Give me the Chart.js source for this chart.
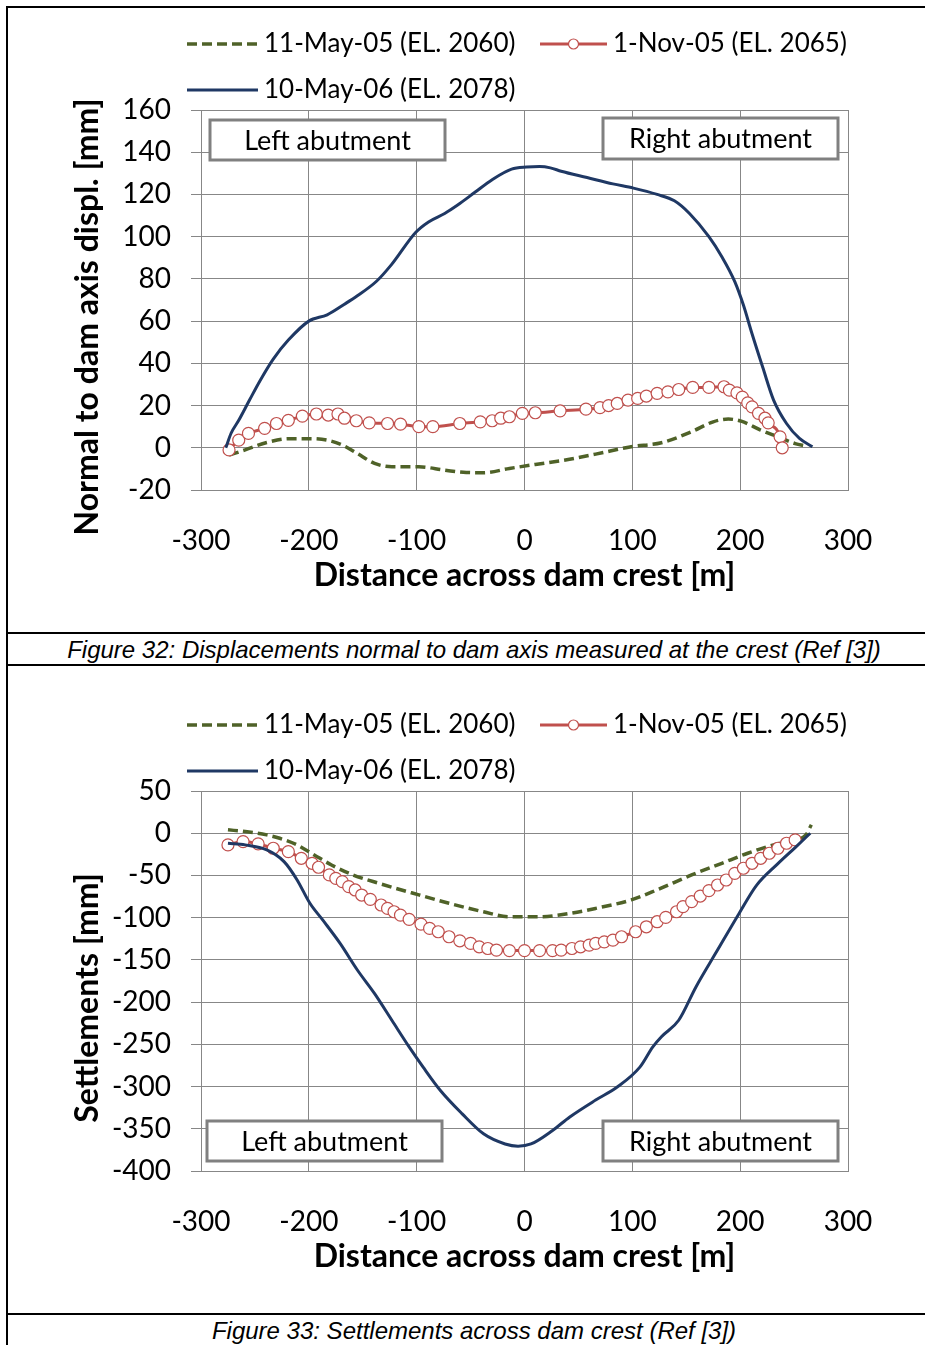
<!DOCTYPE html>
<html>
<head>
<meta charset="utf-8">
<script src="https://cdn.jsdelivr.net/npm/chart.js@4.4.1/dist/chart.umd.min.js"></script>
<style>
  body { margin: 0; background: #fff; }
  #page { position: relative; width: 925px; height: 1345px; overflow: hidden; }
  .vline { position: absolute; left: 6px; top: 6px; width: 2px; height: 1345px; background: #000; }
  .hline { position: absolute; left: 6px; width: 930px; height: 2px; background: #000; }
  .cap { position: absolute; left: 8px; width: 932px; text-align: center;
         font: italic 24px "Liberation Sans", Arial, sans-serif; color: #000; }
  canvas { position: absolute; left: 0; }
</style>
</head>
<body>
<div id="page">
  <div class="vline"></div>
  <div class="hline" style="top:6px"></div>
  <canvas id="disp" width="925" height="630" style="top:0"></canvas>
  <div class="hline" style="top:632px"></div>
  <div class="cap" style="top:636px">Figure 32: Displacements normal to dam axis measured at the crest (Ref [3])</div>
  <div class="hline" style="top:664px"></div>
  <canvas id="settl" width="925" height="630" style="top:681px"></canvas>
  <div class="hline" style="top:1313px"></div>
  <div class="cap" style="top:1317px">Figure 33: Settlements across dam crest (Ref [3])</div>
</div>

<script>
// labels of the three surveys
const seriesNames = ['11-May-05 (EL. 2060)', '1-Nov-05 (EL. 2065)', '10-May-06 (EL. 2078)'];

// ---- Figure 32: displacement normal to dam axis [mm] vs distance [m]
const disp_may05_x = [-274,-259,-239,-219,-199,-183,-169,-155,-139,-123,-98,-74,-54,-38,-14,10,38,66,99,127,155,175,189,201,219,235,251,261];
const disp_may05_y = [-3.5,-1,2.5,4.3,4.3,3.6,1.3,-2.7,-7.4,-9,-9,-10.6,-11.7,-11.8,-9.8,-7.9,-5.8,-3,0.5,2.4,7.6,12.3,13.6,12.6,8.4,5.2,2,0.8];

const disp_nov05_x = [-274,-265,-256,-241,-230,-219,-206,-193,-182,-173,-167,-156,-144,-127,-115,-98,-85,-60,-41,-30,-22,-14,-2,10,33,57,70,78,86,96,105,113,123,133,143,156,171,185,190,197,202,207,211,217,223,226,237,239];
const disp_nov05_y = [-1,3.6,6.8,9.2,11.5,13,15,16,15.5,16,14,12.8,11.8,11.5,11.2,10,10,11.5,12.3,12.8,14,14.7,16.3,16.6,17.5,18.3,19,20,21,22.6,23.4,24.5,25.8,26.5,27.6,28.6,28.6,28.9,27.3,26,24,21.3,19.4,16.3,14,11.8,5.2,0];

const disp_may06_x = [-277,-272,-265,-255,-245,-233,-219,-200,-183,-167,-155,-137,-123,-101,-89,-74,-62,-46,-30,-12,2,14,24,34,58,82,101,123,139,153,171,183,195,203,211,221,231,243,255,267];
const disp_may06_y = [0,7,13,22.6,32,42,51,60,63,68,72,79,87,102,107,111,115,121,127,132,133,133.2,132.6,131,128,125,123,120,117,111,100,90.5,78.7,67.6,54,38,22.6,11.5,4.4,0.5];

// ---- Figure 33: settlements [mm] vs distance [m]
const settl_may05_x = [-275,-259,-239,-227,-211,-195,-179,-159,-135,-98,-70,-38,-14,14,42,66,99,123,155,183,207,231,251,261,266];
const settl_may05_y = [4,2,-2,-6,-13.8,-25.7,-37.6,-49.4,-59.3,-73,-83,-93,-99,-99,-95,-89,-79,-67,-49.4,-35.6,-23.7,-13.8,-7.9,-2,10];

const settl_nov05_x = [-275,-261,-247,-233,-219,-207,-197,-191,-181,-175,-169,-163,-157,-151,-143,-133,-127,-121,-115,-107,-96,-88,-80,-70,-60,-50,-42,-34,-26,-14,0,14,26,34,44,52,60,66,74,82,90,103,113,123,131,141,147,155,163,171,179,187,195,203,211,219,227,235,243,251];
const settl_nov05_y = [-13.8,-9.9,-12.6,-17.8,-21.8,-29.7,-35.6,-40.3,-49.4,-53.4,-57.4,-63.3,-67.2,-73.2,-78.3,-85,-89,-93,-97,-102,-107.6,-112.7,-116.7,-122.6,-127.4,-130.5,-134.5,-136.5,-138.4,-139,-139,-139,-139,-138.4,-136.5,-134.5,-132.5,-130.5,-128.6,-126.6,-122.6,-116.7,-110.8,-104.8,-99.7,-93,-87,-81,-74.4,-68,-61.3,-55.4,-47.5,-41.5,-35.6,-29.7,-23.7,-17.8,-11.9,-7.9];

const settl_may06_x = [-275,-259,-239,-223,-211,-199,-187,-171,-155,-139,-123,-107,-94,-78,-58,-38,-18,-6,6,26,42,66,86,107,119,127,143,159,179,199,215,235,251,265];
const settl_may06_y = [-11.9,-13.8,-19.8,-33.6,-55,-83,-103,-130.5,-162,-190,-221.5,-253,-277,-304.6,-332,-356,-368,-370.6,-368,-352,-336,-316,-300.6,-277,-253,-241,-221.5,-182,-138.4,-95,-62,-36,-17,0];

const xTicks = { min: -300, max: 300, step: 100 };
const dispTicks = { min: -20, max: 160, step: 20 };
const settlTicks = { min: -400, max: 50, step: 50 };

const FONT = 'Lato, "Open Sans", sans-serif';
const GRID = '#878787';

function pts(xs, ys) {
  return xs.map(function(x, i) { return { x: x, y: ys[i] }; });
}

function makeDatasets(g, r, b) {
  return [{
    label: seriesNames[0],
    data: g,
    borderColor: '#4F6228',
    borderWidth: 3.5,
    borderDash: [10, 5],
    pointRadius: 0,
    order: 3
  }, {
    label: seriesNames[1],
    data: r,
    borderColor: '#C0504D',
    borderWidth: 3,
    pointRadius: 6,
    pointBorderWidth: 1.2,
    pointBackgroundColor: '#fff',
    pointBorderColor: '#C0504D',
    order: 2
  }, {
    label: seriesNames[2],
    data: b,
    borderColor: '#1F3864',
    borderWidth: 3,
    pointRadius: 0,
    order: 1
  }];
}

// legend, rotated y title and the two abutment labels
const decor = {
  id: 'decor',
  afterDraw(chart, args, opts) {
    const ctx = chart.ctx;
    const ca = chart.chartArea;
    ctx.save();

    // legend
    const slots = [{ x: 187, y: 44, w: 71 }, { x: 540, y: 44, w: 67 }, { x: 187, y: 90, w: 71 }];
    chart.data.datasets.forEach(function(ds, i) {
      const s = slots[i];
      ctx.beginPath();
      ctx.strokeStyle = ds.borderColor;
      ctx.lineWidth = ds.borderWidth;
      ctx.setLineDash(ds.borderDash || []);
      ctx.moveTo(s.x, s.y);
      ctx.lineTo(s.x + s.w, s.y);
      ctx.stroke();
      ctx.setLineDash([]);
      if (ds.pointRadius) {
        ctx.beginPath();
        ctx.arc(s.x + s.w / 2, s.y, 5, 0, Math.PI * 2);
        ctx.fillStyle = '#fff';
        ctx.fill();
        ctx.lineWidth = 1.2;
        ctx.strokeStyle = ds.pointBorderColor;
        ctx.stroke();
      }
      ctx.fillStyle = '#000';
      ctx.font = '26px ' + FONT;
      ctx.textAlign = 'left';
      ctx.textBaseline = 'middle';
      ctx.fillText(ds.label, s.x + s.w + 6, s.y);
    });

    // y axis title
    ctx.save();
    ctx.translate(88, (ca.top + ca.bottom) / 2 + 17);
    ctx.rotate(-Math.PI / 2);
    ctx.font = 'bold 32px ' + FONT;
    ctx.textAlign = 'center';
    ctx.textBaseline = 'middle';
    ctx.fillStyle = '#000';
    ctx.fillText(opts.yTitle, 0, 0);
    ctx.restore();

    // abutment labels
    opts.boxes.forEach(function(b) {
      ctx.fillStyle = '#fff';
      ctx.fillRect(b.x, b.y, b.w, b.h);
      ctx.lineWidth = 3;
      ctx.strokeStyle = '#808080';
      ctx.strokeRect(b.x, b.y, b.w, b.h);
      ctx.fillStyle = '#000';
      ctx.font = '27px ' + FONT;
      ctx.textAlign = 'center';
      ctx.textBaseline = 'middle';
      ctx.fillText(b.text, b.x + b.w / 2, b.y + b.h / 2 + 1);
    });
    ctx.restore();
  }
};

function makeChart(id, datasets, yt, yTitle, boxes) {
  return new Chart(document.getElementById(id), {
    type: 'line',
    data: { datasets: datasets },
    plugins: [decor],
    options: {
      responsive: false,
      animation: false,
      events: [],
      layout: { padding: { left: 0, right: 77, top: 110, bottom: 0 } },
      elements: { line: { cubicInterpolationMode: 'monotone' } },
      plugins: {
        legend: { display: false },
        tooltip: { enabled: false },
        decor: { yTitle: yTitle, boxes: boxes }
      },
      scales: {
        x: {
          type: 'linear',
          min: xTicks.min, max: xTicks.max,
          afterFit: function(s) { s.height = 140; },
          grid: { color: GRID, lineWidth: 1, drawTicks: false },
          border: { color: GRID, width: 1 },
          ticks: { stepSize: xTicks.step, color: '#000', padding: 34, font: { family: FONT, size: 28 } },
          title: { display: true, text: 'Distance across dam crest [m]', color: '#000', padding: { top: 0, bottom: 35 },
                   font: { family: FONT, size: 32, weight: 'bold' } }
        },
        y: {
          min: yt.min, max: yt.max,
          afterFit: function(s) { s.width = 201; },
          grid: { color: GRID, lineWidth: 1, tickLength: 10 },
          border: { color: GRID, width: 1 },
          ticks: { stepSize: yt.step, color: '#000', padding: 20, font: { family: FONT, size: 28 } }
        }
      }
    }
  });
}

makeChart('disp',
  makeDatasets(pts(disp_may05_x, disp_may05_y), pts(disp_nov05_x, disp_nov05_y), pts(disp_may06_x, disp_may06_y)),
  dispTicks, 'Normal to dam axis displ. [mm]',
  [{ x: 210, y: 120, w: 235, h: 40, text: 'Left abutment' },
   { x: 603, y: 118, w: 235, h: 41, text: 'Right abutment' }]);

makeChart('settl',
  makeDatasets(pts(settl_may05_x, settl_may05_y), pts(settl_nov05_x, settl_nov05_y), pts(settl_may06_x, settl_may06_y)),
  settlTicks, 'Settlements [mm]',
  [{ x: 207, y: 440, w: 235, h: 40, text: 'Left abutment' },
   { x: 603, y: 440, w: 235, h: 40, text: 'Right abutment' }]);
</script>
</body>
</html>
